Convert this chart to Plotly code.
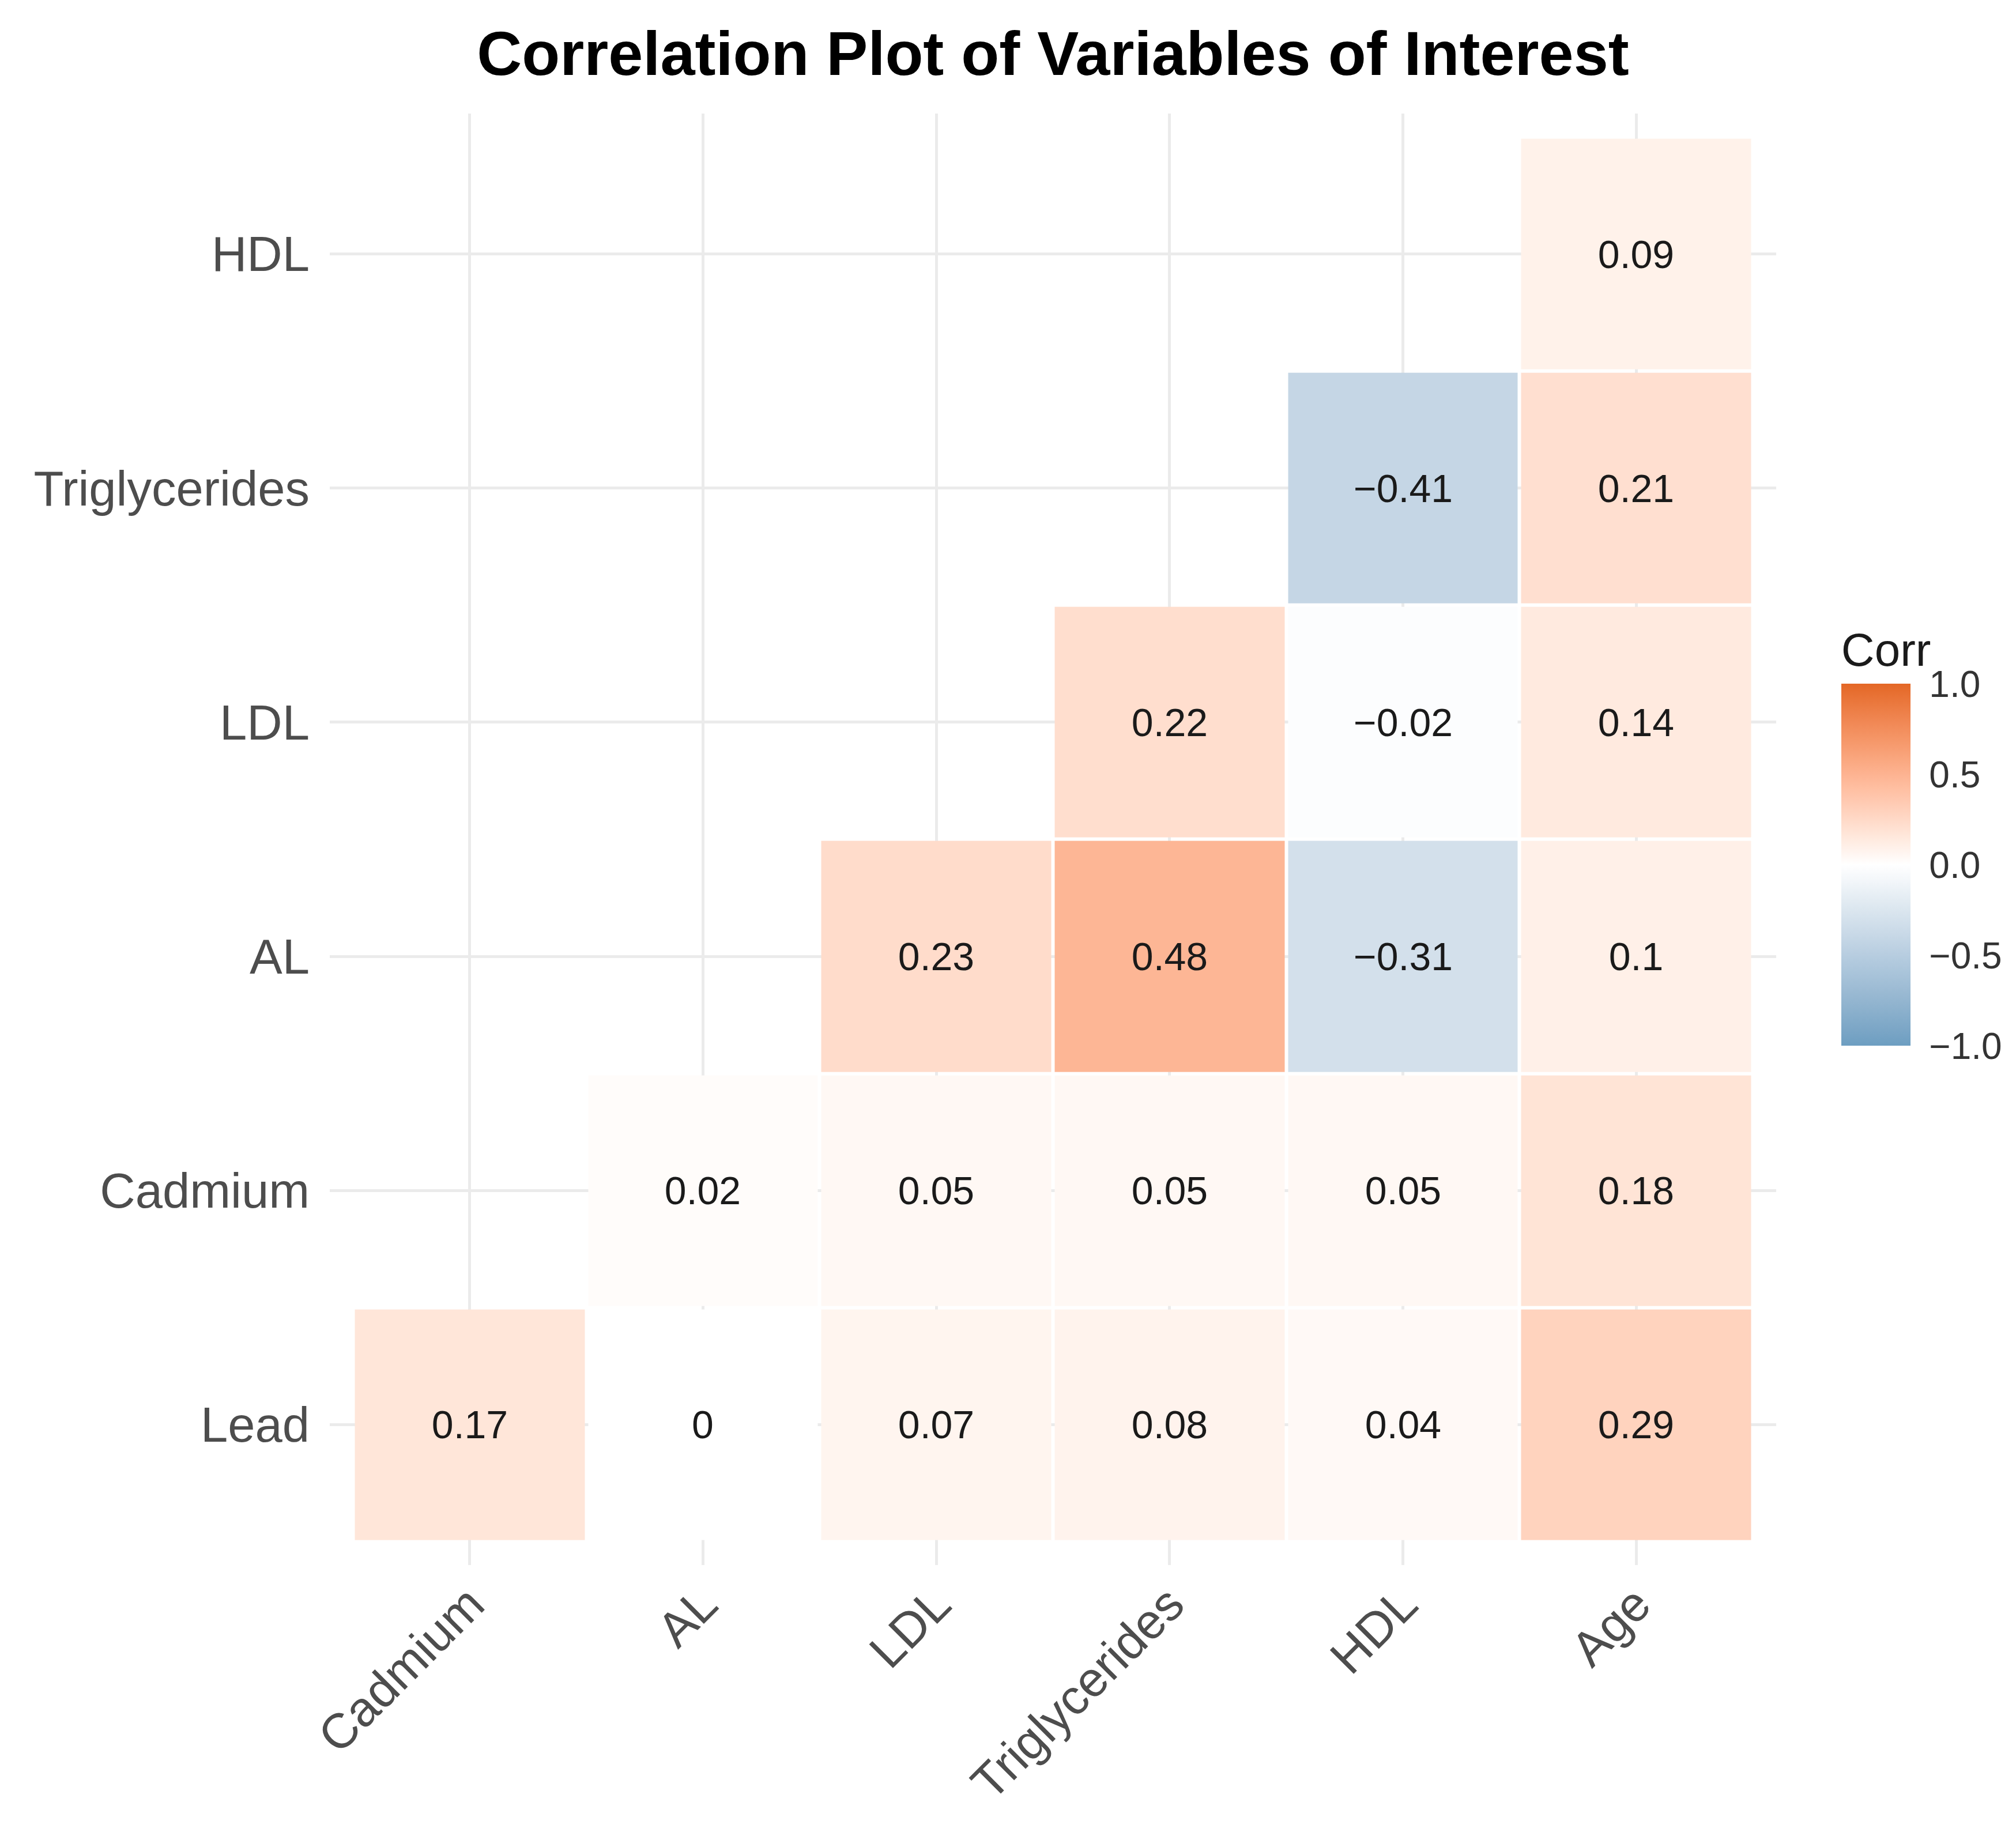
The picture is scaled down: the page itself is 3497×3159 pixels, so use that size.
import plotly.graph_objects as go

# Correlation matrix (lower triangle)
x_vars = ["Cadmium", "AL", "LDL", "Triglycerides", "HDL", "Age"]
y_vars = ["Lead", "Cadmium", "AL", "LDL", "Triglycerides", "HDL"]

lead = [0.17, 0, 0.07, 0.08, 0.04, 0.29]
cadmium = [None, 0.02, 0.05, 0.05, 0.05, 0.18]
al = [None, None, 0.23, 0.48, -0.31, 0.1]
ldl = [None, None, None, 0.22, -0.02, 0.14]
triglycerides = [None, None, None, None, -0.41, 0.21]
hdl = [None, None, None, None, None, 0.09]

bar_ticks = [-1.0, -0.5, 0.0, 0.5, 1.0]
bar_labels = ["\u22121.0", "\u22120.5", "0.0", "0.5", "1.0"]

z = [lead, cadmium, al, ldl, triglycerides, hdl]


def fmt(v):
    # R-style print: drop trailing zeros, real minus sign
    if v is None:
        return ""
    return f"{v:g}".replace("-", "\u2212")


labels = [[fmt(v) for v in row] for row in z]


# ggplot's gradient2 interpolates in CIELAB, so build the scale the same way
def to_lab(h):
    rgb = [int(h[i:i + 2], 16) / 255 for i in (1, 3, 5)]
    r, g, b = [c / 12.92 if c <= 0.04045 else ((c + 0.055) / 1.055) ** 2.4 for c in rgb]
    x = (0.4124 * r + 0.3576 * g + 0.1805 * b) / 0.95047
    y = 0.2126 * r + 0.7152 * g + 0.0722 * b
    zz = (0.0193 * r + 0.1192 * g + 0.9505 * b) / 1.08883
    f = lambda t: t ** (1 / 3) if t > 0.008856 else 7.787 * t + 16 / 116
    fx, fy, fz = f(x), f(y), f(zz)
    return 116 * fy - 16, 500 * (fx - fy), 200 * (fy - fz)


def from_lab(L, a, b):
    fy = (L + 16) / 116
    fx = fy + a / 500
    fz = fy - b / 200
    inv = lambda t: t ** 3 if t ** 3 > 0.008856 else (t - 16 / 116) / 7.787
    x, y, zz = inv(fx) * 0.95047, inv(fy), inv(fz) * 1.08883
    r = 3.2406 * x - 1.5372 * y - 0.4986 * zz
    g = -0.9689 * x + 1.8758 * y + 0.0415 * zz
    bb = 0.0557 * x - 0.2040 * y + 1.0570 * zz
    out = []
    for c in (r, g, bb):
        c = 12.92 * c if c <= 0.0031308 else 1.055 * c ** (1 / 2.4) - 0.055
        out.append(int(round(min(max(c, 0), 1) * 255)))
    return "rgb(%d,%d,%d)" % tuple(out)


def ramp(c0, c1, n):
    l0, l1 = to_lab(c0), to_lab(c1)
    return [from_lab(*[l0[k] + (l1[k] - l0[k]) * i / n for k in range(3)]) for i in range(n + 1)]


low, mid, high = "#6D9EC1", "#FFFFFF", "#E46726"
steps = 10
colorscale = []
for i, c in enumerate(ramp(low, mid, steps)):
    colorscale.append([0.5 * i / steps, c])
for i, c in enumerate(ramp(mid, high, steps)[1:], start=1):
    colorscale.append([0.5 + 0.5 * i / steps, c])

fig = go.Figure()
fig.add_trace(go.Heatmap(
    x=x_vars,
    y=y_vars,
    z=z,
    text=labels,
    texttemplate="%{text}",
    textfont=dict(family="Liberation Sans, Arial, sans-serif", size=68, color="#1a1a1a"),
    colorscale=colorscale,
    zmin=-1, zmax=1,
    xgap=6, ygap=6,
    hoverongaps=False,
    colorbar=dict(
        title=dict(text="Corr", side="top",
                   font=dict(family="Liberation Sans, Arial, sans-serif", size=80, color="#1a1a1a")),
        tickvals=bar_ticks,
        ticktext=bar_labels,
        tickfont=dict(family="Liberation Sans, Arial, sans-serif", size=64, color="#333333"),
        ticks="outside", ticklen=20, tickcolor="rgba(0,0,0,0)",
        thickness=120,
        lenmode="pixels", len=742,
        x=1.041, xanchor="left",
        y=0.501, yanchor="middle",
        outlinewidth=0,
    ),
))

fig.update_layout(
    width=3497,
    height=3159,
    margin=dict(l=564, r=424, t=189, b=452, autoexpand=False),
    paper_bgcolor="white",
    plot_bgcolor="white",
    font=dict(family="Liberation Sans, Arial, sans-serif"),
    title=dict(
        text="<b>Correlation Plot of Variables of Interest</b>",
        x=0.5, xref="paper", xanchor="center",
        y=1 - 84 / 3159, yref="container", yanchor="middle",
        font=dict(family="Liberation Sans, Arial, sans-serif", size=108, color="black"),
    ),
    xaxis=dict(
        range=[-0.6, 5.6],
        tickangle=-45,
        tickfont=dict(size=85, color="#4d4d4d"),
        showgrid=True, gridcolor="#EBEBEB", gridwidth=5,
        zeroline=False, showline=False, ticks="",
    ),
    yaxis=dict(
        range=[-0.6, 5.6],
        tickfont=dict(size=85, color="#4d4d4d"),
        ticklabelstandoff=34,
        showgrid=True, gridcolor="#EBEBEB", gridwidth=5,
        zeroline=False, showline=False, ticks="",
    ),
)

fig.write_html("out.html")
